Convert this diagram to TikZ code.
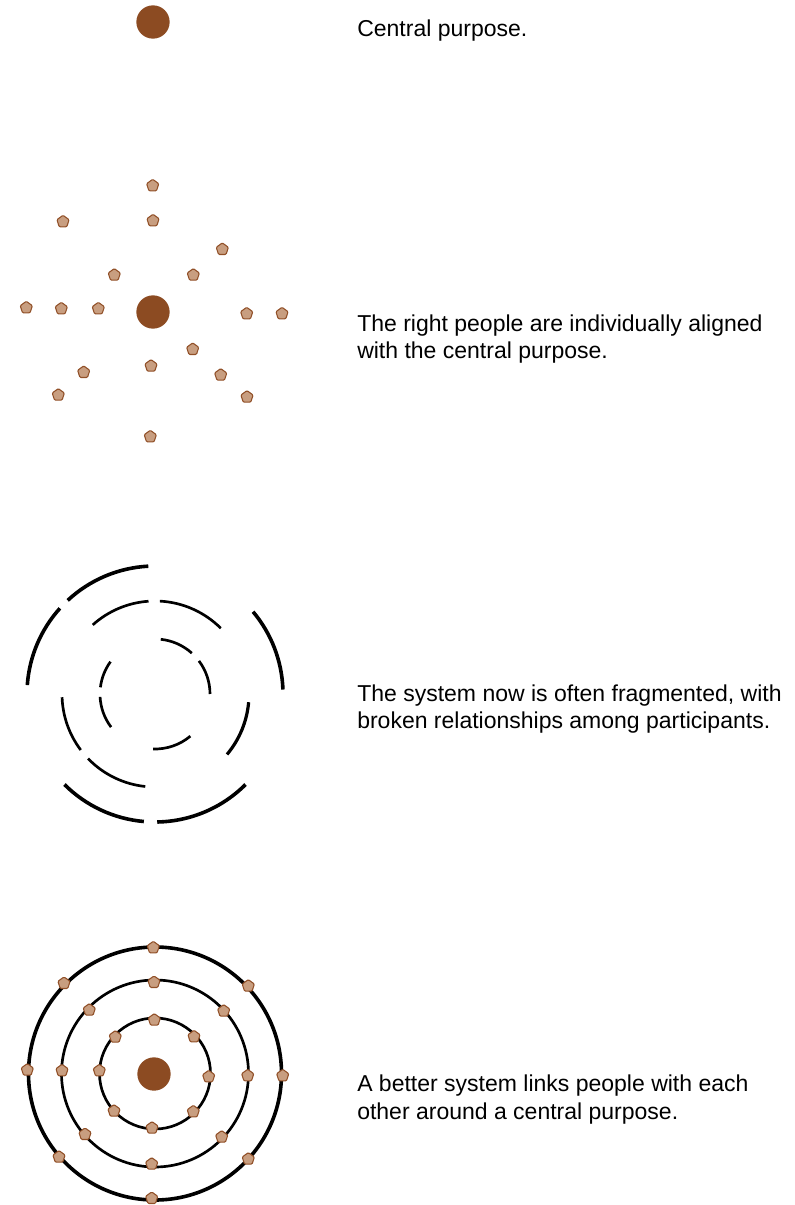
\documentclass[tikz,border=0pt]{standalone}
\usepackage{fontspec}
\setmainfont{Liberation Sans}
\usetikzlibrary{shapes.geometric}
\definecolor{hubbrown}{RGB}{140,75,34}
\definecolor{persontan}{RGB}{200,158,128}
\definecolor{personedge}{RGB}{145,80,40}
\begin{document}
\begin{tikzpicture}[x=0.75pt,y=-0.75pt,
  hub/.style={circle,fill=hubbrown,draw=none,minimum size=25pt,inner sep=0pt},
  person/.style={regular polygon,regular polygon sides=5,fill=persontan,draw=personedge,line width=0.8pt,minimum size=9.6pt,inner sep=0pt,rounded corners=0.8pt},
  caption/.style={anchor=base west,inner sep=0pt,font=\fontsize{17.25pt}{20.5pt}\selectfont,text=black},
  ringthick/.style={line width=2.7pt,black},
  ringthin/.style={line width=2pt,black}]
\useasboundingbox (0,0) rectangle (794,1205);

% Panel 1
\node[hub] (hub1) at (153,22) {};
\node[caption] (cap1) at (357,37) {Central purpose.};

% Panel 2
\node[hub] (hub2) at (153,312) {};
\foreach \px/\py [count=\i] in {152.7/185.7, 63/221.7, 153/220.7, 222.3/249.3, 114.3/275, 193.3/275, 26.3/307.7, 61.3/308.7, 98.3/308.7, 246.7/313.7, 282/313.7, 192.7/349.3, 151/366, 83.7/372.3, 220.7/375, 58.3/395, 247/397, 150.3/436.7}
  \node[person] (ptwo\i) at (\px,\py) {};
\node[caption] (cap2a) at (357,331) {The right people are individually aligned};
\node[caption] (cap2b) at (357,358.5) {with the central purpose.};

% Panel 3: fragmented rings
\coordinate (c3) at (155,694);
\begin{scope}[shift={(c3)},yscale=-1]
  \foreach \a/\b in {93/133, 138/176, 2/40, -89/-45, 225/265}
    \draw[ringthick] (\a:128) arc[start angle=\a, end angle=\b, radius=128];
  \foreach \a/\b in {94/132, 45/87, 182/217, 224/264}
    \draw[ringthin] (\a:93) arc[start angle=\a, end angle=\b, radius=93];
  \draw[ringthin,line width=2.4pt] (-40:94) arc[start angle=-40, end angle=-5, radius=94];
  \foreach \a/\b in {48/84, 0/37, 144/173, 183/217, 268/310}
    \draw[ringthin] (\a:55) arc[start angle=\a, end angle=\b, radius=55];
\end{scope}
\node[caption] (cap3a) at (357,701) {The system now is often fragmented, with};
\node[caption] (cap3b) at (357,728) {broken relationships among participants.};

% Panel 4: linked rings
\coordinate (c4) at (155,1073.5);
\draw[ringthick] (c4) circle[radius=126.5];
\draw[ringthin] (c4) circle[radius=93.5];
\draw[ringthin] (c4) circle[radius=55.5];
\node[hub] (hub4) at (154,1074) {};
\foreach \px/\py [count=\i] in {153.3/947.7, 248.3/986, 282.7/1075.7, 248.3/1159, 151.7/1198.3, 59/1157, 27.3/1070, 64/983.3}
  \node[person] (pouter\i) at (\px,\py) {};
\foreach \px/\py [count=\i] in {154/982.3, 223.7/1011, 247.7/1075.7, 221.7/1137, 151.7/1164, 85/1134.3, 62/1070.7, 89.3/1010}
  \node[person] (pmiddle\i) at (\px,\py) {};
\foreach \px/\py [count=\i] in {154.3/1020, 194/1036.7, 208.7/1076.7, 193.3/1111.7, 152/1128, 114/1111, 99.3/1070.7, 115.3/1037}
  \node[person] (pinner\i) at (\px,\py) {};
\node[caption] (cap4a) at (357,1091.5) {A better system links people with each};
\node[caption] (cap4b) at (357,1119) {other around a central purpose.};
\end{tikzpicture}
\end{document}
